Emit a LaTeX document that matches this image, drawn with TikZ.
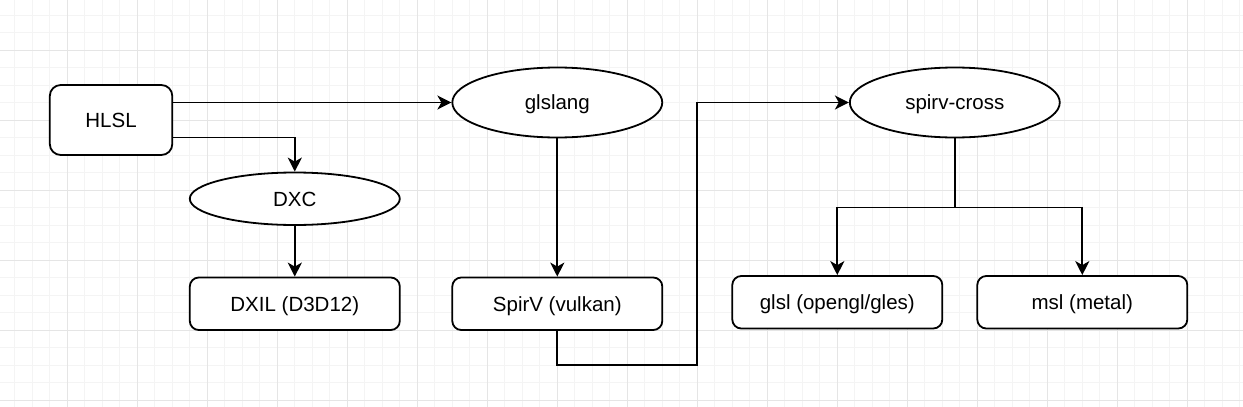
\documentclass[tikz,border=0pt]{standalone}
\usepackage{fontspec}
\setmainfont{Liberation Sans}
\usetikzlibrary{arrows.meta,shapes.geometric}

\tikzset{
  box/.style={draw,rounded corners=9pt,line width=1.8pt,fill=white,
    minimum width=210pt,minimum height=52.5pt,inner sep=0pt,
    text height=14.8pt,text depth=0pt,
    font=\fontsize{20.5}{24}\selectfont},
  proc/.style={draw,ellipse,line width=1.8pt,fill=white,
    minimum width=210pt,minimum height=70pt,inner sep=0pt,
    text height=14.8pt,text depth=0pt,
    font=\fontsize{20.5}{24}\selectfont},
  arr/.style={line width=1.8pt,-{Stealth[length=14pt,width=14pt,inset=4pt]}},
  wire/.style={line width=1.8pt},
  gridminor/.style={gray!9,line width=0.8pt},
  gridmajor/.style={gray!20,line width=0.8pt}
}

\begin{document}
\begin{tikzpicture}[x=1pt,y=-1pt]
  \useasboundingbox (0,0) rectangle (1243,407);
  \fill[white] (0,0) rectangle (1243,407);
  % background grid
  \foreach \k in {-3,...,67}
    \draw[gridminor] ({67.3+17.5*\k},0) -- ({67.3+17.5*\k},407);
  \foreach \k in {-2,...,20}
    \draw[gridminor] (0,{50+17.5*\k}) -- (1243,{50+17.5*\k});
  \foreach \k in {0,...,16}
    \draw[gridmajor] ({67.3+70*\k},0) -- ({67.3+70*\k},407);
  \foreach \k in {0,...,5}
    \draw[gridmajor] (0,{50+70*\k}) -- (1243,{50+70*\k});

  % nodes
  \node[box,minimum width=122.5pt,minimum height=70pt,rounded corners=11pt] (hlsl) at (111.05,120) {HLSL};
  \node[proc,minimum height=52.5pt] (dxc) at (294.8,198.75) {DXC};
  \node[box] (dxil) at (294.8,303.75) {DXIL (D3D12)};
  \node[proc] (glslang) at (557.3,102.5) {glslang};
  \node[box] (spirv) at (557.3,303.75) {SpirV (vulkan)};
  \node[proc] (cross) at (954.8,102.5) {spirv-cross};
  \node[box] (glsl) at (837.3,302.25) {glsl (opengl/gles)};
  \node[box] (msl) at (1082.3,302.25) {msl (metal)};

  \coordinate (bend) at (697.3,365);
  \coordinate (split) at (954.8,207.5);

  % connectors
  \draw[arr] ([yshift=17.5pt]hlsl.east) -- (glslang.west);
  \draw[arr] ([yshift=-17.5pt]hlsl.east) -| (dxc.north);
  \draw[arr] (dxc) -- (dxil);
  \draw[arr] (glslang) -- (spirv);
  \draw[arr] (spirv.south) |- (bend) |- (cross.west);
  \draw[wire] (cross.south) -- (split);
  \draw[arr] (split) -| (glsl.north);
  \draw[arr] (split) -| (msl.north);
\end{tikzpicture}
\end{document}
